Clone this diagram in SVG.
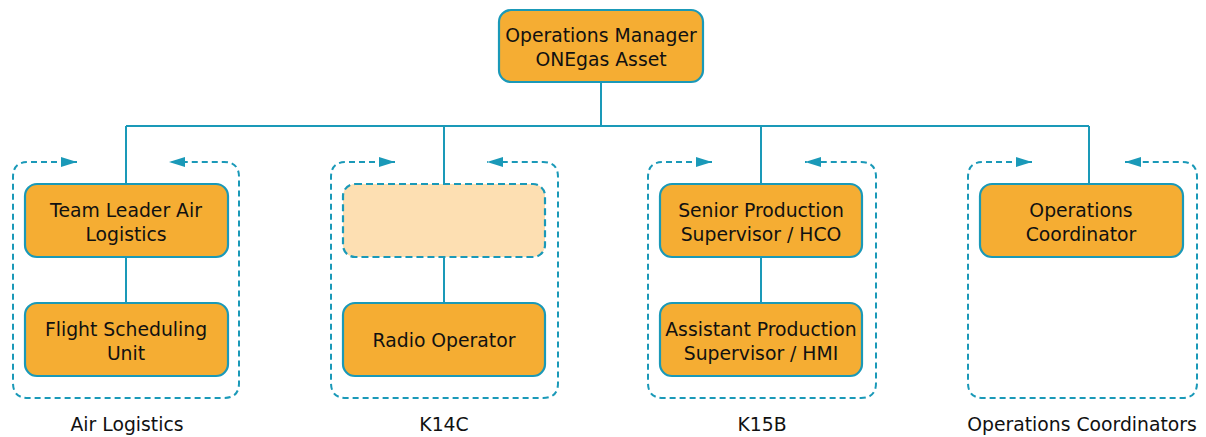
<svg xmlns="http://www.w3.org/2000/svg" width="1206" height="437" viewBox="0 0 1206 437">
  <defs>
    <marker id="arrow" viewBox="0 0 16 10" refX="16" refY="5" markerWidth="16" markerHeight="10" markerUnits="userSpaceOnUse" orient="auto-start-reverse">
      <path d="M0,0 L16,5 L0,10 z" fill="#1a99b8"/>
    </marker>
    <style>
      .box { fill: #f5ad33; stroke: #1a99b8; stroke-width: 2.2; }
      .vacant { fill: #fddfb2; stroke: #1a99b8; stroke-width: 2.2; stroke-dasharray: 7 4; }
      .frame { fill: none; stroke: #1a99b8; stroke-width: 2; stroke-dasharray: 6 4; marker-start: url(#arrow); marker-end: url(#arrow); }
      .link { fill: none; stroke: #1a99b8; stroke-width: 2; }
      text { font-family: "DejaVu Sans", Verdana, sans-serif; font-size: 18.8px; fill: #111; text-anchor: middle; }
    </style>
  </defs>
  <rect width="1206" height="437" fill="#fff"/>

  <!-- connectors -->
  <g id="connectors">
    <path class="link" d="M601,82 V126 M126,126 H1089 M126,126 V184 M444,126 V184 M761,126 V184 M1089,126 V184"/>
    <path class="link" d="M126,257 V303 M444,257 V303 M761,257 V303"/>
  </g>

  <!-- group frames -->
  <g id="frames">
    <path class="frame" d="M77,162 H28 Q13,162 13,177 V383 Q13,398 28,398 H224 Q239,398 239,383 V177 Q239,162 224,162 H169"/>
    <path class="frame" d="M395,162 H346 Q331,162 331,177 V383 Q331,398 346,398 H543 Q558,398 558,383 V177 Q558,162 543,162 H487"/>
    <path class="frame" d="M712,162 H663 Q648,162 648,177 V383 Q648,398 663,398 H861 Q876,398 876,383 V177 Q876,162 861,162 H805"/>
    <path class="frame" d="M1032,162 H983 Q968,162 968,177 V383 Q968,398 983,398 H1182 Q1197,398 1197,383 V177 Q1197,162 1182,162 H1125"/>
  </g>

  <g id="ops-manager">
    <rect class="box" x="499" y="10" width="204" height="72" rx="12"/>
    <text x="601" y="42">Operations Manager</text>
    <text x="601" y="66">ONEgas Asset</text>
  </g>

  <g id="team-leader">
    <rect class="box" x="25" y="184" width="203" height="73" rx="12"/>
    <text x="126" y="217">Team Leader Air</text>
    <text x="126" y="241">Logistics</text>
  </g>
  <g id="flight-scheduling">
    <rect class="box" x="25" y="303" width="203" height="73" rx="12"/>
    <text x="126" y="336">Flight Scheduling</text>
    <text x="126" y="360">Unit</text>
  </g>

  <g id="vacant-k14c">
    <rect class="vacant" x="343" y="184" width="202" height="73" rx="12"/>
  </g>
  <g id="radio-operator">
    <rect class="box" x="343" y="303" width="202" height="73" rx="12"/>
    <text x="444" y="347">Radio Operator</text>
  </g>

  <g id="senior-production">
    <rect class="box" x="660" y="184" width="202" height="73" rx="12"/>
    <text x="761" y="217">Senior Production</text>
    <text x="761" y="241">Supervisor / HCO</text>
  </g>
  <g id="assistant-production">
    <rect class="box" x="660" y="303" width="202" height="73" rx="12"/>
    <text x="761" y="336">Assistant Production</text>
    <text x="761" y="360">Supervisor / HMI</text>
  </g>

  <g id="ops-coordinator">
    <rect class="box" x="980" y="184" width="203" height="73" rx="12"/>
    <text x="1081" y="217">Operations</text>
    <text x="1081" y="241">Coordinator</text>
  </g>

  <g id="group-labels">
    <text x="127" y="431">Air Logistics</text>
    <text x="444" y="431">K14C</text>
    <text x="762" y="431">K15B</text>
    <text x="1082" y="431">Operations Coordinators</text>
  </g>
</svg>
